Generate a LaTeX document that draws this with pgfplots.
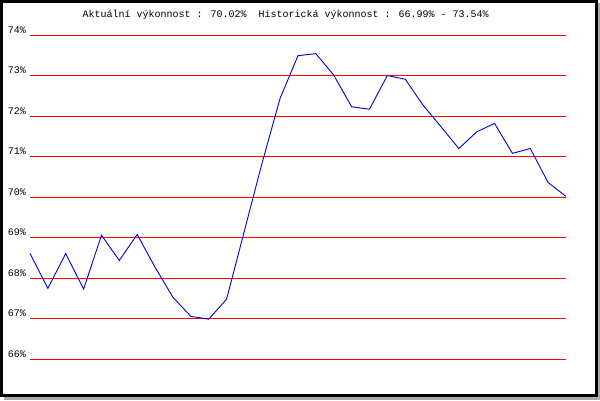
\documentclass[border=0pt]{standalone}
\usepackage{pgfplots}
\pgfplotsset{compat=1.18}
\usepackage{fontspec}
\setmainfont{Liberation Mono}
\definecolor{lineblue}{RGB}{0,0,210}
\definecolor{shadow}{RGB}{170,170,170}
\begin{document}
\begin{tikzpicture}[x=1pt,y=1pt]
\fill[shadow] (4,0) rectangle (600,396.5);
\fill[black] (0,3.5) rectangle (598,400);
\fill[white] (3,6.5) rectangle (595,397);
\node[anchor=base west, inner sep=0pt, font=\fontsize{10}{12}\selectfont] at (82.5,382.7) {Aktuální výkonnost : 70.02\%\ \ Historická výkonnost : 66.99\% - 73.54\%};
\begin{axis}[
  at={(30pt,40.7pt)}, anchor=south west,
  scale only axis, width=536pt, height=324.3pt,
  xmin=0, xmax=30, ymin=66, ymax=74,
  axis line style={draw=none},
  tick style={draw=none},
  xtick=\empty,
  ytick={66,67,68,69,70,71,72,73,74},
  yticklabels={66\%,67\%,68\%,69\%,70\%,71\%,72\%,73\%,74\%},
  yticklabel style={anchor=base east, inner sep=0pt, xshift=-4pt, yshift=2pt, font=\fontsize{10}{12}\selectfont},
  ymajorgrids,
  grid style={red, line width=1pt},
  clip=false,
]
\addplot[lineblue, line width=0.9pt] coordinates {
(0,68.61) (1,67.75) (2,68.61) (3,67.73) (4,69.06) (5,68.44) (6,69.08) (7,68.27)
(8,67.53) (9,67.06) (10,66.99) (11,67.48) (12,69.17) (13,70.86) (14,72.44) (15,73.49)
(16,73.54) (17,73.01) (18,72.23) (19,72.17) (20,73.00) (21,72.91) (22,72.27) (23,71.74)
(24,71.20) (25,71.61) (26,71.82) (27,71.08) (28,71.20) (29,70.36) (30,70.02)
};
\end{axis}
\end{tikzpicture}
\end{document}
